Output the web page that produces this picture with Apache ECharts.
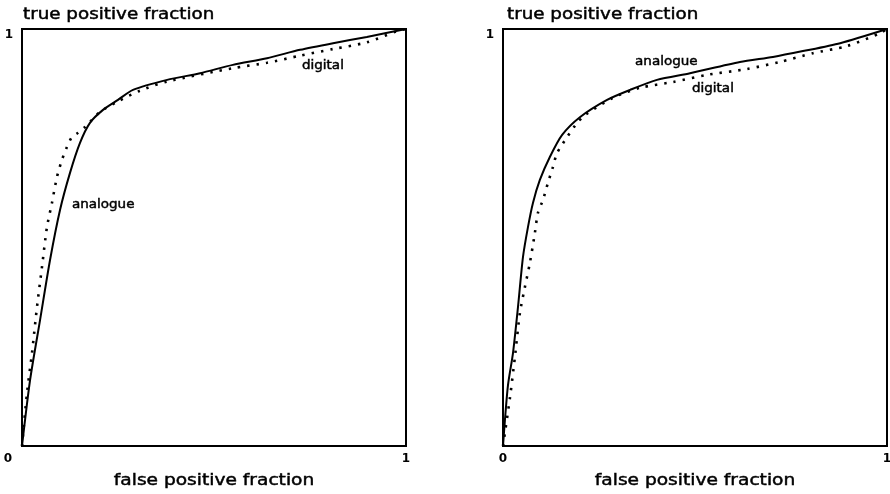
<!DOCTYPE html>
<html><head><meta charset="utf-8">
<script src="https://cdn.jsdelivr.net/npm/echarts@6/dist/echarts.min.js"></script>
<style>html,body{margin:0;padding:0;background:#fff}#c{width:890px;height:494px}</style>
</head><body><div id="c"></div>
<script>
// ---- data (false positive fraction, true positive fraction) ----
const leftAnalogueX = [0,0.021,0.047,0.073,0.099,0.125,0.151,0.177,0.211,0.250,0.289,0.378,0.464,0.549,0.638,0.724,0.810,0.898,1];
const leftAnalogueY = [0,0.158,0.302,0.446,0.566,0.655,0.727,0.775,0.806,0.830,0.854,0.878,0.894,0.914,0.930,0.950,0.966,0.981,1];
const leftDigitalX = [0,0.013,0.026,0.039,0.052,0.065,0.078,0.091,0.104,0.117,0.130,0.146,0.164,0.203,0.247,0.307,0.378,0.549,0.638,0.724,0.810,0.898,0.977,1];
const leftDigitalY = [0,0.127,0.223,0.333,0.429,0.525,0.583,0.645,0.686,0.717,0.741,0.751,0.765,0.801,0.825,0.852,0.874,0.906,0.919,0.936,0.952,0.968,0.995,1];
const rightAnalogueX = [0,0.005,0.013,0.026,0.039,0.052,0.065,0.078,0.096,0.122,0.154,0.201,0.271,0.331,0.401,0.487,0.617,0.703,0.781,0.878,1];
const rightAnalogueY = [0,0.062,0.146,0.223,0.333,0.453,0.525,0.583,0.638,0.693,0.746,0.789,0.830,0.854,0.878,0.894,0.921,0.933,0.947,0.966,1];
const rightDigitalX = [0,0.018,0.031,0.044,0.057,0.070,0.083,0.091,0.104,0.117,0.130,0.141,0.167,0.193,0.214,0.286,0.357,0.443,0.531,0.635,0.721,0.807,0.896,0.982,1];
const rightDigitalY = [0,0.115,0.213,0.319,0.381,0.439,0.511,0.559,0.590,0.631,0.669,0.703,0.741,0.775,0.794,0.835,0.859,0.873,0.890,0.904,0.921,0.942,0.959,0.990,1];
const xTicks = [0, 1];
const yTicks = [0, 1];
const xTitle = 'false positive fraction';
const yTitle = 'true positive fraction';
const seriesNames = ['analogue', 'digital'];
// label anchor positions in data units (left edge, vertical middle)
const labelPosLeft = {analogue: [0.13, 0.578], digital: [0.729, 0.911]};
const labelPosRight = {analogue: [0.344, 0.921], digital: [0.492, 0.856]};

const zip = (xs, ys) => xs.map((x, i) => [x, ys[i]]);
const FONT = 'DejaVu Sans';
const chart = echarts.init(document.getElementById('c'));

function xAxis(idx, leftPanel) {
  return {
    type: 'value', gridIndex: idx, min: xTicks[0], max: xTicks[1], interval: 1,
    axisLine: {show: false}, axisTick: {show: false}, splitLine: {show: false},
    axisLabel: {
      margin: 7, fontFamily: FONT, fontSize: 12, fontWeight: 'bold', color: '#000',
      formatter: v => (v === 0 && leftPanel) ? '{z|0}' : String(v),
      rich: {z: {padding: [0, 28, 0, 0], fontFamily: FONT, fontSize: 12, fontWeight: 'bold', color: '#000'}}
    }
  };
}
function yAxis(idx) {
  return {
    type: 'value', gridIndex: idx, min: yTicks[0], max: yTicks[1], interval: 1,
    axisLine: {show: false}, axisTick: {show: false}, splitLine: {show: false},
    axisLabel: {margin: 9, fontFamily: FONT, fontSize: 12, fontWeight: 'bold', color: '#000',
      verticalAlign: 'top', formatter: v => v === 1 ? '1' : ''}
  };
}
const solid = {color: '#000', width: 2};
const dotted = {color: '#000', width: 2.6, type: [2.4, 7], cap: 'butt'};
function line(name, idx, data, style) {
  return {type: 'line', name, xAxisIndex: idx, yAxisIndex: idx, data, showSymbol: false,
    symbol: 'none', smooth: 0.25, lineStyle: style, silent: true, animation: false};
}

chart.setOption({
  animation: false,
  grid: [
    {left: 22, top: 29, width: 384, height: 417, show: true, borderColor: '#000', borderWidth: 2, outerBoundsMode: 'none', containLabel: false},
    {left: 503, top: 29, width: 384, height: 417, show: true, borderColor: '#000', borderWidth: 2, outerBoundsMode: 'none', containLabel: false}
  ],
  xAxis: [xAxis(0, true), xAxis(1, false)],
  yAxis: [yAxis(0), yAxis(1)],
  series: [
    line(seriesNames[0], 0, zip(leftAnalogueX, leftAnalogueY), solid),
    line(seriesNames[1], 0, zip(leftDigitalX, leftDigitalY), dotted),
    line(seriesNames[0], 1, zip(rightAnalogueX, rightAnalogueY), solid),
    line(seriesNames[1], 1, zip(rightDigitalX, rightDigitalY), dotted)
  ]
});

function txt(text, x, y, size, sx, align) {
  return {type: 'text', x, y, scaleX: sx, silent: true,
    style: {text, font: size + 'px "' + FONT + '"', fill: '#000', stroke: '#000', lineWidth: 0.45,
      align: align || 'left', verticalAlign: 'middle'}};
}
const g = [];
[0, 1].forEach(i => {
  const o = chart.convertToPixel({gridIndex: i}, [0, 0]);
  const e = chart.convertToPixel({gridIndex: i}, [1, 1]);
  g.push(txt(yTitle, o[0] + (i === 0 ? 1 : 4), 15, 15, 1.22, 'left'));
  g.push(txt(xTitle, (o[0] + e[0]) / 2, 481, 15, 1.24, 'center'));
  const pos = i === 0 ? labelPosLeft : labelPosRight;
  seriesNames.forEach(n => {
    const p = chart.convertToPixel({gridIndex: i}, pos[n]);
    g.push(txt(n, p[0], p[1], 12.5, 1.08, 'left'));
  });
});
chart.setOption({graphic: {elements: g}});
</script></body></html>
